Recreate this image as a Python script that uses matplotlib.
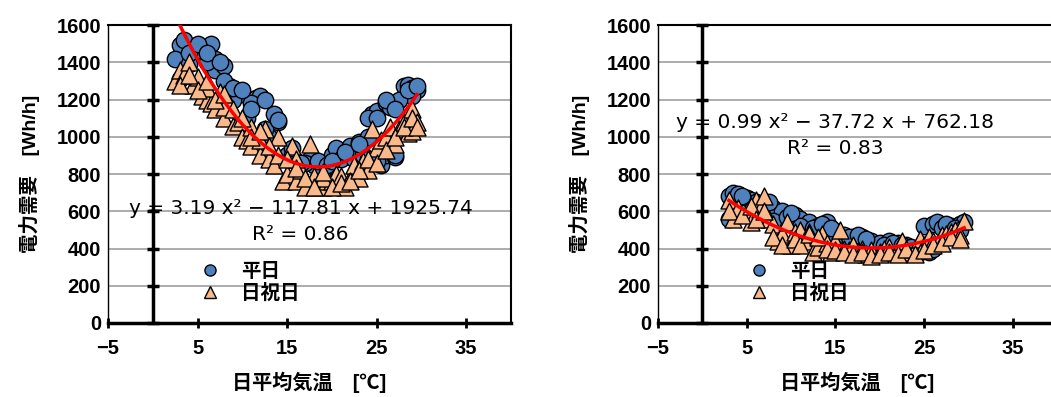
import numpy as np
import matplotlib
matplotlib.use("Agg")
import matplotlib.pyplot as plt
from matplotlib.lines import Line2D

plt.rcParams['font.family'] = ['Liberation Sans', 'Noto Sans CJK JP', 'DejaVu Sans']

# left chart: weekday (circles) and holiday (triangles)
wd_x_1 = [3, 3.5, 5, 4.5, 6.5, 7, 7, 8, 8.5, 9.5, 10, 11.5, 12, 11, 13.5, 14, 13, 15, 16, 17.5,
          18, 19, 20, 20.5, 21, 22, 23, 24, 24.5, 25, 26, 26.5, 25.5, 26, 27, 28, 28.5, 29, 29.5, 29,
          2.5, 3, 4, 5.5, 6, 9, 10.5, 12.5, 15.5, 17, 22.5, 23.5, 27.5, 24,
          4, 5, 6, 7.5, 8, 9, 10, 11, 12.5, 14, 16.5, 18.5, 19.5, 20, 21.5, 23, 24, 25, 26, 27,
          28.5, 29.5, 26, 27, 25]
wd_y_1 = [1490, 1520, 1480, 1450, 1500, 1420, 1360, 1380, 1270, 1240, 1230, 1210, 1220, 1180, 1120, 1080, 1000, 900, 870, 880,
          850, 820, 900, 940, 880, 950, 970, 1000, 1120, 1140, 1180, 1160, 850, 900, 890, 1270, 1280, 1260, 1250, 1220,
          1420, 1310, 1390, 1460, 1400, 1200, 1100, 1040, 940, 860, 880, 900, 1200, 880,
          1450, 1500, 1450, 1400, 1300, 1260, 1250, 1150, 1200, 1090, 860, 870, 850, 870, 920, 960, 1100, 1100, 1200, 1150,
          1250, 1270, 950, 900, 870]
hd_x_1 = [2.5, 3, 3.5, 4, 4.5, 5, 5.5, 6, 6.5, 7, 7.5, 8, 8.5, 9, 9.5, 10, 10.5, 11, 12, 12.5,
          13, 13.5, 14, 14.5, 15, 15.5, 16, 16.5, 17, 17.5, 18, 18.5, 19, 19.5, 20, 20.5, 21, 21.5, 22, 22.5,
          23, 23.5, 24, 24.5, 25, 25.5, 26, 26.5, 27, 27.5, 28, 28.5, 29, 29.5, 29, 6, 8, 11, 16, 19, 12,
          3, 4, 5, 6, 7, 8, 9, 10, 11, 12, 13, 14, 15, 16, 17, 18, 19, 20, 21, 22,
          23, 24, 25, 26, 27, 28, 29, 29.5]
hd_y_1 = [1300, 1360, 1330, 1400, 1280, 1320, 1220, 1200, 1180, 1150, 1240, 1100, 1180, 1060, 1080, 1000, 980, 950, 900, 1040,
          880, 850, 1000, 760, 800, 950, 760, 820, 730, 960, 790, 740, 730, 760, 760, 800, 790, 730, 780, 850,
          780, 870, 820, 1040, 940, 980, 1000, 1050, 960, 1040, 1080, 1020, 1150, 1080, 1030, 1260, 1160, 1050, 880, 780, 980,
          1280, 1330, 1250, 1300, 1200, 1230, 1150, 1100, 1000, 1030, 950, 900, 880, 830, 780, 730, 810, 730, 750, 760,
          820, 880, 860, 930, 1000, 1050, 1100, 1050]
coef_1 = [3.19, -117.81, 1925.74]
r2_1 = 0.86

# right chart
wd_x_2 = [3, 3.5, 4, 5, 5.5, 6, 7, 8, 9, 10.5, 11, 12, 13, 14, 15, 16, 17, 18, 19, 20,
          21, 22, 23, 24, 25, 26, 26.5, 27, 28, 29, 29.5, 25.5, 3, 8, 11,
          4.5, 6.5, 7.5, 9.5, 10, 12.5, 13.5, 14.5, 16.5, 17.5, 18.5, 20.5, 21.5, 22.5, 23.5, 24.5, 26, 27.5, 28.5, 29]
wd_y_2 = [680, 700, 690, 670, 660, 650, 640, 620, 600, 580, 560, 540, 520, 540, 480, 470, 460, 460, 440, 430,
          440, 430, 420, 400, 520, 530, 540, 510, 520, 530, 540, 380, 560, 550, 520,
          680, 640, 650, 570, 590, 510, 530, 510, 460, 470, 450, 420, 430, 420, 410, 380, 400, 530, 510, 500]
hd_x_2 = [3, 3.5, 4, 5, 5.5, 6, 6.5, 7, 7.5, 8, 8.5, 9, 9.5, 10, 10.5, 11, 11.5, 12, 12.5, 13,
          13.5, 14, 14.5, 15, 15.5, 16, 16.5, 17, 17.5, 18, 18.5, 19, 20, 20.5, 21, 22, 22.5, 23, 24, 24.5,
          25, 25.5, 26, 27, 27.5, 28, 28.5, 29, 29.5, 3,
          4.5, 5.5, 6, 7, 8, 9, 10.5, 11, 12, 13, 14, 15, 16, 17, 18, 19, 20, 21, 22, 23,
          24, 25, 26, 27, 28, 29]
hd_y_2 = [660, 560, 620, 600, 540, 660, 610, 680, 560, 530, 440, 480, 540, 420, 490, 500, 440, 490, 380, 410,
          480, 430, 380, 440, 500, 400, 390, 420, 380, 400, 370, 390, 380, 400, 410, 400, 440, 380, 400, 450,
          420, 460, 440, 470, 480, 490, 500, 470, 550, 600,
          580, 630, 560, 600, 460, 420, 450, 420, 480, 460, 400, 390, 380, 370, 380, 360, 370, 380, 370, 400,
          370, 390, 420, 430, 460, 450]
coef_2 = [0.99, -37.72, 762.18]
r2_2 = 0.83

fit_range = [3, 29.5]
yticks = [0, 200, 400, 600, 800, 1000, 1200, 1400, 1600]
xticks = [-5, 5, 15, 25, 35]
labels = ['平日', '日祝日']

circle_col = '#4F81BD'
tri_col = '#F9B98A'

fig = plt.figure(figsize=(10.51, 3.97), dpi=100)
ax1 = fig.add_axes([0.1028, 0.1864, 0.3834, 0.7506])
ax2 = fig.add_axes([0.626, 0.1864, 0.38, 0.7506])


def draw(ax, wx, wy, hx, hy, coef, r2, eq_xy, leg_anchor):
    ax.set_xlim(-5, 40)
    ax.set_ylim(0, 1600)
    for y in yticks[1:]:
        ax.axhline(y, color='#A6A6A6', lw=1.3, zorder=0)
    ax.scatter(wx, wy, s=140, marker='o', facecolor=circle_col, edgecolor='black', lw=1.0, zorder=2)
    ax.scatter(hx, hy, s=150, marker='^', facecolor=tri_col, edgecolor='black', lw=1.0, zorder=3)
    xs = np.linspace(fit_range[0], fit_range[1], 200)
    ax.plot(xs, np.polyval(coef, xs), color='#FF0000', lw=2.5, zorder=4)
    # vertical axis line at x = 0 with tick marks
    ax.axvline(0, color='black', lw=2.5, zorder=5)
    ax.plot([0] * len(yticks), yticks, linestyle='none', marker='_', ms=9, mew=2.5, color='black', zorder=5,
            clip_on=False)
    ax.set_xticks(xticks)
    ax.set_xticklabels(['\u22125', '5', '15', '25', '35'])
    ax.set_yticks(yticks)
    ax.tick_params(axis='y', length=0, labelsize=14.5, pad=5)
    ax.tick_params(axis='x', direction='inout', length=7, width=2, labelsize=14.5, pad=8)
    for lab in ax.get_xticklabels() + ax.get_yticklabels():
        lab.set_fontweight('bold')
    ax.spines['bottom'].set_linewidth(2.5)
    ax.spines['left'].set_linewidth(1.0)
    ax.spines['top'].set_linewidth(1.5)
    ax.spines['right'].set_linewidth(1.5)
    ax.set_xlabel('日平均気温\u3000[℃]', fontsize=14.5, fontweight='bold', labelpad=10)
    ax.set_ylabel('電力需要\u3000[Wh/h]', fontsize=14, fontweight='bold', labelpad=12)
    b = coef[1]
    sign = '−' if b < 0 else '+'
    eq = 'y = %.2f x² %s %.2f x + %.2f' % (coef[0], sign, abs(b), coef[2])
    ax.text(eq_xy[0], eq_xy[1], eq, fontsize=14.5, ha='center', va='center', zorder=6,
            family=['DejaVu Sans'])
    ax.text(eq_xy[0], eq_xy[1] - 140, 'R² = %.2f' % r2, fontsize=14.5, ha='center', va='center', zorder=6,
            family=['DejaVu Sans'])
    handles = [Line2D([], [], linestyle='none', marker='o', ms=8, mfc=circle_col, mec='black'),
               Line2D([], [], linestyle='none', marker='^', ms=8, mfc=tri_col, mec='black')]
    leg = ax.legend(handles, labels, loc='center left', bbox_to_anchor=leg_anchor, frameon=False,
                    prop={'size': 14, 'weight': 'bold'}, handletextpad=1.1, labelspacing=0.15,
                    handlelength=1.0, borderpad=0)
    leg.set_zorder(7)


draw(ax1, wd_x_1, wd_y_1, hd_x_1, hd_y_1, coef_1, r2_1, (16.5, 617), (0.205, 0.135))
draw(ax2, wd_x_2, wd_y_2, hd_x_2, hd_y_2, coef_2, r2_2, (15.0, 1079), (0.205, 0.135))

fig.savefig('out.png', dpi=100)
